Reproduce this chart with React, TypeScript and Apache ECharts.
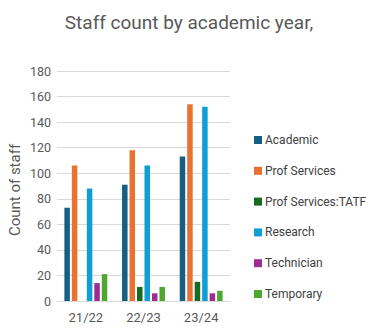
import React, { useEffect, useRef } from "react";
import * as echarts from "echarts";

const categories = ["21/22", "22/23", "23/24"];
const academic = [73, 91, 113];
const profServices = [106, 118, 154];
const profServicesTATF = [0, 11, 15];
const research = [88, 106, 152];
const technician = [14, 6, 6];
const temporary = [21, 11, 8];

const seriesNames = ["Academic", "Prof Services", "Prof Services:TATF", "Research", "Technician", "Temporary"];
const seriesData = [academic, profServices, profServicesTATF, research, technician, temporary];
const colors = ["#156082", "#E97132", "#196B24", "#0F9ED5", "#A02B93", "#4EA72E"];

export default function App() {
  const ref = useRef<HTMLDivElement>(null);
  useEffect(() => {
    if (!ref.current) return;
    const chart = echarts.init(ref.current, undefined, { renderer: "svg" });
    chart.setOption({
      animation: false,
      color: colors,
      textStyle: { fontFamily: "Roboto, 'Noto Sans', sans-serif" },
      title: {
        text: "Staff count by academic year,",
        left: 184,
        textAlign: "center",
        top: 8,
        textStyle: { fontSize: 19, fontWeight: "normal", color: "#595959" },
      },
      grid: { left: 57, right: 139, top: 71, bottom: 29, containLabel: false },
      legend: {
        orient: "vertical",
        left: 249,
        top: 128,
        itemWidth: 8,
        itemHeight: 8,
        itemGap: 16.8,
        icon: "rect",
        textStyle: { fontSize: 12, color: "#404040", lineHeight: 14, padding: [0, 0, 0, -2] },
        data: seriesNames,
      },
      xAxis: {
        type: "category",
        data: categories,
        axisLine: { show: true, lineStyle: { color: "#d9d9d9" } },
        axisTick: { show: false },
        axisLabel: { fontSize: 13, color: "#595959", margin: 10 },
      },
      yAxis: {
        type: "value",
        min: 0,
        max: 180,
        interval: 20,
        name: "Count of staff",
        nameLocation: "middle",
        nameGap: 35,
        nameTextStyle: { fontSize: 15, color: "#595959", padding: [0, 8, 0, 0] },
        axisLine: { show: false },
        axisTick: { show: false },
        axisLabel: { fontSize: 12.5, color: "#595959", margin: 6 },
        splitLine: { lineStyle: { color: "#d9d9d9" } },
      },
      series: seriesNames.map((name, i) => ({
        name,
        type: "bar",
        data: seriesData[i],
        barWidth: 5.5,
        barGap: "36%",
        barCategoryGap: "18%",
      })),
    });
    return () => chart.dispose();
  }, []);
  return <div ref={ref} style={{ position: "fixed", left: 0, top: 0, width: 369, height: 330, background: "#fff" }} />;
}
